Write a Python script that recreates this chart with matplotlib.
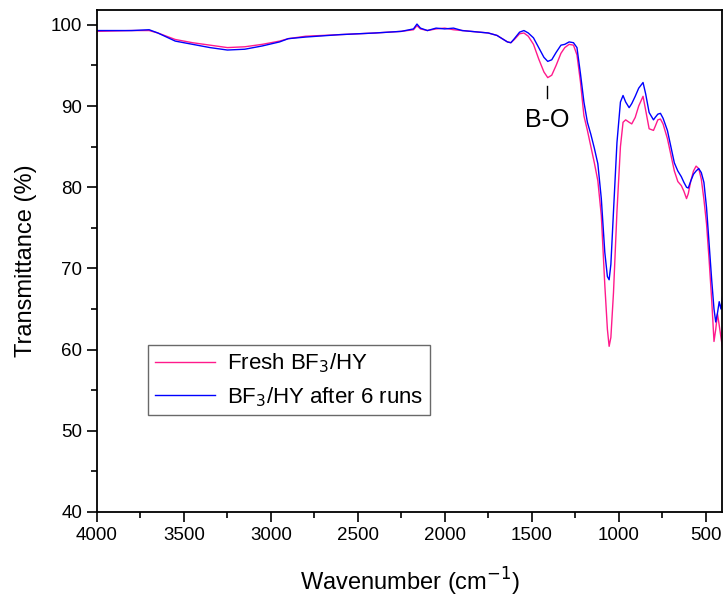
import matplotlib
matplotlib.use('Agg')
import matplotlib.pyplot as plt
from matplotlib.ticker import MultipleLocator

plt.rcParams['font.family'] = ['Liberation Sans', 'DejaVu Sans']

# wavenumber points (cm-1)
wavenumber = [4000, 3800, 3700, 3650, 3550, 3450, 3350, 3250, 3150, 3050,
              2950, 2900, 2800, 2600, 2400, 2250, 2180, 2160, 2140, 2100,
              2050, 2000, 1950, 1900, 1800, 1750, 1700, 1670, 1640, 1620,
              1600, 1570, 1545, 1520, 1490, 1460, 1430, 1408, 1385, 1360,
              1332, 1310, 1285, 1260, 1240, 1220, 1200, 1180, 1160, 1140,
              1120, 1100, 1080, 1065, 1055, 1045, 1030, 1010, 990, 975,
              960, 940, 925, 905, 885, 860, 845, 825, 800, 790,
              775, 760, 745, 720, 700, 680, 660, 640, 625, 610,
              600, 585, 570, 555, 540, 525, 510, 495, 480, 465,
              452, 442, 432, 422, 412, 400]

fresh = [99.2, 99.3, 99.3, 99.0, 98.2, 97.8, 97.5, 97.2, 97.3, 97.6,
         98.0, 98.3, 98.6, 98.8, 99.0, 99.2, 99.4, 99.9, 99.5, 99.3,
         99.5, 99.6, 99.4, 99.3, 99.1, 99.0, 98.7, 98.3, 97.9, 97.8,
         98.2, 98.9, 99.0, 98.6, 97.6, 95.8, 94.2, 93.5, 93.8, 95.0,
         96.5, 97.2, 97.6, 97.5, 96.3, 93.0, 88.8, 87.0, 85.0, 83.0,
         80.8, 76.5, 68.0, 62.5, 60.4, 61.5, 67.0, 77.0, 85.0, 88.0,
         88.3, 88.0, 87.8, 88.6, 90.0, 91.2, 89.5, 87.2, 87.0, 87.5,
         88.3, 88.4, 87.8, 86.0, 84.0, 82.0, 80.7, 80.2, 79.5, 78.6,
         79.2, 80.8, 82.0, 82.6, 82.3, 81.0, 78.5, 75.5, 71.0, 66.0,
         61.0, 62.5, 64.4, 63.0, 61.5, 59.8]

after_6_runs = [99.3, 99.3, 99.4, 99.0, 98.0, 97.6, 97.2, 96.9, 97.0, 97.4,
                97.9, 98.3, 98.5, 98.8, 99.0, 99.2, 99.5, 100.1, 99.6, 99.3,
                99.6, 99.5, 99.6, 99.3, 99.1, 99.0, 98.7, 98.3, 97.9, 97.8,
                98.3, 99.1, 99.3, 99.0, 98.4, 97.2, 96.0, 95.5, 95.7, 96.6,
                97.5, 97.6, 97.9, 97.8, 97.2, 94.0, 90.5, 88.0, 86.5, 84.8,
                82.9, 78.6, 72.0, 69.0, 68.6, 70.5, 77.0, 85.5, 90.5, 91.3,
                90.5, 89.8, 90.3, 91.2, 92.2, 92.9, 91.5, 89.2, 88.3, 88.6,
                89.0, 89.1, 88.5, 87.0, 85.0, 83.0, 82.0, 81.3, 80.6, 80.0,
                79.9, 80.8, 81.6, 82.0, 82.3, 81.8, 80.6, 77.5, 73.0, 68.5,
                65.0, 63.4, 64.5, 65.9, 65.0, 67.0]

fig = plt.figure(figsize=(7.27, 6.03), dpi=100)
ax = fig.add_axes([0.1334, 0.151, 0.8602, 0.832])

ax.plot(wavenumber, fresh, color='#ff1a8c', lw=1.0, label='Fresh BF$_3$/HY')
ax.plot(wavenumber, after_6_runs, color='#0000ff', lw=1.0, label='BF$_3$/HY after 6 runs')

ax.set_xlim(4000, 404)
ax.set_ylim(40, 101.8)
ax.xaxis.set_major_locator(MultipleLocator(500))
ax.xaxis.set_minor_locator(MultipleLocator(250))
ax.yaxis.set_major_locator(MultipleLocator(10))
ax.yaxis.set_minor_locator(MultipleLocator(5))
ax.tick_params(which='major', direction='out', length=7, width=1.2, labelsize=13.5)
ax.tick_params(which='minor', direction='out', length=4, width=1.2)
for s in ax.spines.values():
    s.set_linewidth(1.3)

ax.set_xlabel('Wavenumber (cm$^{-1}$)', fontsize=17, labelpad=16)
ax.set_ylabel('Transmittance (%)', fontsize=17, labelpad=10)

# B-O mark
ax.plot([1410, 1410], [91.0, 92.5], color='black', lw=1.0)
ax.text(1410, 88.3, 'B-O', fontsize=18, ha='center', va='center')

leg = ax.legend(loc='upper left', bbox_to_anchor=(0.0816, 0.333), fontsize=16,
                frameon=True, fancybox=False, edgecolor='#444444',
                handlelength=2.7, handletextpad=0.55, borderpad=0.3,
                labelspacing=0.45, borderaxespad=0)
leg.get_frame().set_linewidth(1.0)

plt.savefig('out.png', dpi=100)
